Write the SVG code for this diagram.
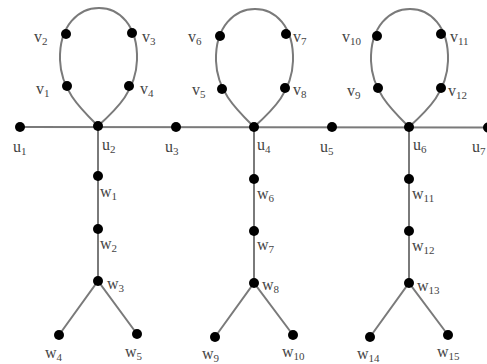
<svg xmlns="http://www.w3.org/2000/svg" width="487" height="364" viewBox="0 0 487 364">
  <style>
    .edge { fill: none; stroke: #7a7a7a; stroke-width: 2; }
    .dot { fill: #000; }
    .lbl { font-family: "Liberation Serif", "Times New Roman", serif; font-size: 16px; fill: #444; }
    .sub { font-size: 11px; }
  </style>
  <defs>
    <path id="loop" d="M0,0 C-18,-18 -37,-36 -38,-66 C-39,-101 -19,-118 1,-118 C21,-118 40,-101 39,-66 C38,-36 20,-18 0,0 Z"/>
  </defs>

  <!-- edges -->
  <g id="connectors" class="edge">
    <line x1="20" y1="127" x2="487" y2="127.5"/>
    <use href="#loop" transform="translate(98,126)"/>
    <use href="#loop" transform="translate(254,127)"/>
    <use href="#loop" transform="translate(409,127)"/>
    <polyline points="98,126 98,281"/>
    <polyline points="59,335 98,281 137,334"/>
    <polyline points="254,127 254,283"/>
    <polyline points="215,337 254,283 293,335"/>
    <polyline points="409,127 409,283"/>
    <polyline points="370,337 409,283 448,335"/>
  </g>

  <!-- spine vertices -->
  <g id="u1"><circle class="dot" cx="20" cy="127" r="5"/><text class="lbl" x="13" y="152">u<tspan class="sub" dy="3">1</tspan></text></g>
  <g id="u2"><circle class="dot" cx="98" cy="126" r="5"/><text class="lbl" x="102" y="150">u<tspan class="sub" dy="3">2</tspan></text></g>
  <g id="u3"><circle class="dot" cx="176" cy="127" r="5"/><text class="lbl" x="165" y="152">u<tspan class="sub" dy="3">3</tspan></text></g>
  <g id="u4"><circle class="dot" cx="254" cy="127" r="5"/><text class="lbl" x="257" y="150">u<tspan class="sub" dy="3">4</tspan></text></g>
  <g id="u5"><circle class="dot" cx="332" cy="127" r="5"/><text class="lbl" x="320" y="152">u<tspan class="sub" dy="3">5</tspan></text></g>
  <g id="u6"><circle class="dot" cx="409" cy="127" r="5"/><text class="lbl" x="413" y="150">u<tspan class="sub" dy="3">6</tspan></text></g>
  <g id="u7"><circle class="dot" cx="488" cy="127.5" r="5"/><text class="lbl" x="472" y="152">u<tspan class="sub" dy="3">7</tspan></text></g>

  <!-- cycle vertices -->
  <g id="v1"><circle class="dot" cx="67" cy="86" r="5"/><text class="lbl" x="36" y="94">v<tspan class="sub" dy="3">1</tspan></text></g>
  <g id="v2"><circle class="dot" cx="66" cy="34" r="5"/><text class="lbl" x="34" y="42">v<tspan class="sub" dy="3">2</tspan></text></g>
  <g id="v3"><circle class="dot" cx="132" cy="33" r="5"/><text class="lbl" x="142" y="42">v<tspan class="sub" dy="3">3</tspan></text></g>
  <g id="v4"><circle class="dot" cx="129" cy="86" r="5"/><text class="lbl" x="140" y="94">v<tspan class="sub" dy="3">4</tspan></text></g>
  <g id="v5"><circle class="dot" cx="222" cy="89" r="5"/><text class="lbl" x="192" y="95">v<tspan class="sub" dy="3">5</tspan></text></g>
  <g id="v6"><circle class="dot" cx="220" cy="36" r="5"/><text class="lbl" x="188" y="42">v<tspan class="sub" dy="3">6</tspan></text></g>
  <g id="v7"><circle class="dot" cx="286" cy="34" r="5"/><text class="lbl" x="293" y="42">v<tspan class="sub" dy="3">7</tspan></text></g>
  <g id="v8"><circle class="dot" cx="285" cy="88" r="5"/><text class="lbl" x="293" y="95">v<tspan class="sub" dy="3">8</tspan></text></g>
  <g id="v9"><circle class="dot" cx="378" cy="88" r="5"/><text class="lbl" x="347" y="96">v<tspan class="sub" dy="3">9</tspan></text></g>
  <g id="v10"><circle class="dot" cx="377" cy="36" r="5"/><text class="lbl" x="342" y="42">v<tspan class="sub" dy="3">10</tspan></text></g>
  <g id="v11"><circle class="dot" cx="441" cy="34" r="5"/><text class="lbl" x="450" y="42">v<tspan class="sub" dy="3">11</tspan></text></g>
  <g id="v12"><circle class="dot" cx="441" cy="88" r="5"/><text class="lbl" x="448" y="96">v<tspan class="sub" dy="3">12</tspan></text></g>

  <!-- pendant tree vertices -->
  <g id="w1"><circle class="dot" cx="98" cy="176" r="5"/><text class="lbl" x="100" y="197">w<tspan class="sub" dy="3">1</tspan></text></g>
  <g id="w2"><circle class="dot" cx="98" cy="229" r="5"/><text class="lbl" x="100" y="249">w<tspan class="sub" dy="3">2</tspan></text></g>
  <g id="w3"><circle class="dot" cx="98" cy="281" r="5"/><text class="lbl" x="107" y="289">w<tspan class="sub" dy="3">3</tspan></text></g>
  <g id="w4"><circle class="dot" cx="59" cy="335" r="5"/><text class="lbl" x="45" y="358">w<tspan class="sub" dy="3">4</tspan></text></g>
  <g id="w5"><circle class="dot" cx="137" cy="334" r="5"/><text class="lbl" x="125" y="357">w<tspan class="sub" dy="3">5</tspan></text></g>
  <g id="w6"><circle class="dot" cx="254" cy="179" r="5"/><text class="lbl" x="257" y="199">w<tspan class="sub" dy="3">6</tspan></text></g>
  <g id="w7"><circle class="dot" cx="254" cy="231" r="5"/><text class="lbl" x="257" y="250">w<tspan class="sub" dy="3">7</tspan></text></g>
  <g id="w8"><circle class="dot" cx="254" cy="283" r="5"/><text class="lbl" x="262" y="290">w<tspan class="sub" dy="3">8</tspan></text></g>
  <g id="w9"><circle class="dot" cx="215" cy="337" r="5"/><text class="lbl" x="202" y="359">w<tspan class="sub" dy="3">9</tspan></text></g>
  <g id="w10"><circle class="dot" cx="293" cy="335" r="5"/><text class="lbl" x="282" y="357">w<tspan class="sub" dy="3">10</tspan></text></g>
  <g id="w11"><circle class="dot" cx="409" cy="179" r="5"/><text class="lbl" x="412" y="199">w<tspan class="sub" dy="3">11</tspan></text></g>
  <g id="w12"><circle class="dot" cx="409" cy="231" r="5"/><text class="lbl" x="412" y="251">w<tspan class="sub" dy="3">12</tspan></text></g>
  <g id="w13"><circle class="dot" cx="409" cy="283" r="5"/><text class="lbl" x="417" y="291">w<tspan class="sub" dy="3">13</tspan></text></g>
  <g id="w14"><circle class="dot" cx="370" cy="337" r="5"/><text class="lbl" x="357" y="359">w<tspan class="sub" dy="3">14</tspan></text></g>
  <g id="w15"><circle class="dot" cx="448" cy="335" r="5"/><text class="lbl" x="437" y="357">w<tspan class="sub" dy="3">15</tspan></text></g>
</svg>
